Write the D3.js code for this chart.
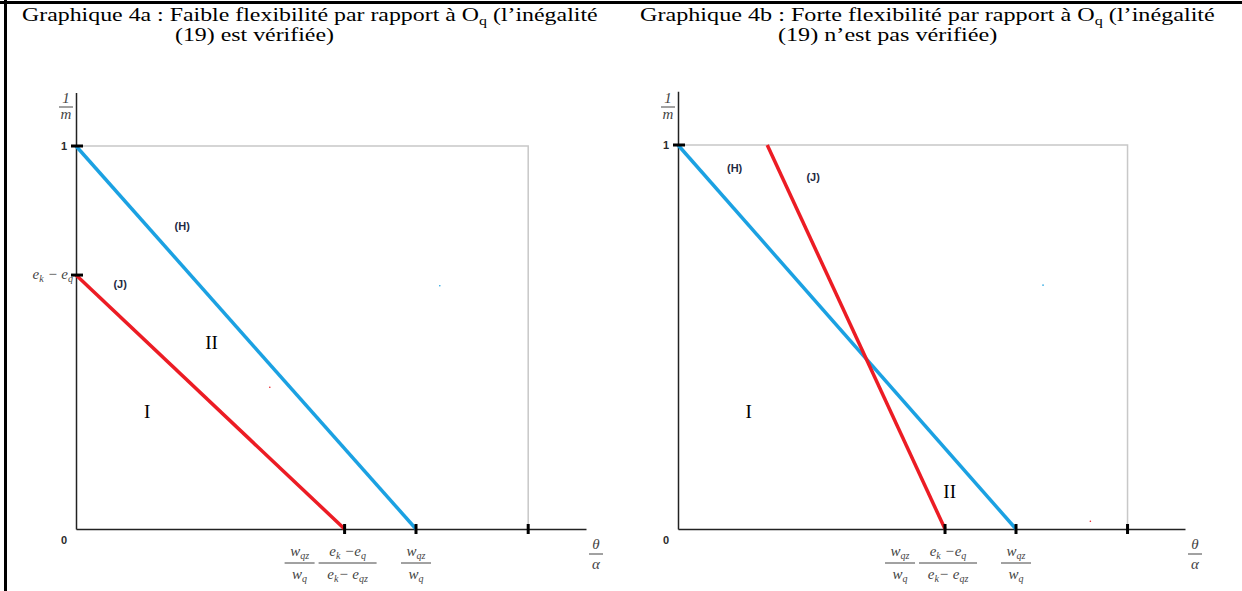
<!DOCTYPE html>
<html><head><meta charset="utf-8">
<script src="https://cdn.jsdelivr.net/npm/d3@7"></script>
<style>
body{margin:0;background:#fff;}
svg{display:block;}
.title{font-family:"Liberation Serif","Times New Roman",serif;font-size:18px;fill:#000;}
.bold{font-family:"Liberation Sans",Arial,sans-serif;font-weight:bold;font-size:11px;}
.math{font-family:"Liberation Serif","Times New Roman",serif;font-style:italic;font-size:15px;fill:#444;}
.roman{font-family:"Liberation Serif","Times New Roman",serif;font-size:19px;fill:#000;}
</style></head>
<body>
<script>
// ---- data ----
const panelIds = ["4a", "4b"];
const titleLine1 = ["Graphique 4a : Faible flexibilité par rapport à O", "Graphique 4b : Forte flexibilité par rapport à O"];
const titleLine1End = [" (l’inégalité", " (l’inégalité"];
const titleLine2 = ["(19) est vérifiée)", "(19) n’est pas vérifiée)"];
// line H : from (0,1) to (wqz/wq = 1, 0)
const lineH = [[[0, 1], [1, 0]], [[0, 1], [1, 0]]];
// line J
const lineJ = [[[0, 0.663], [0.79, 0]], [[0.264, 1], [0.79, 0]]];
// x ticks: J intercept, H intercept, right edge of box
const xTicks = [[0.79, 1, 1.33], [0.79, 1, 1.33]];
const yTicks = [[0.663, 1], [1]];
const boxX = [1.33, 1.33];
const labelH = [[0.29, 0.78], [0.145, 0.93]];
const labelJ = [[0.11, 0.63], [0.38, 0.905]];
const regionI = [[0.2, 0.29], [0.2, 0.29]];
const regionII = [[0.38, 0.47], [0.785, 0.08]];
const strayBlue = [[1.07, 0.635], [1.08, 0.635]];
const strayRed = [[0.57, 0.37], [1.22, 0.02]];

// ---- layout ----
const W = 1242, H = 591;
const geom = [
  {x0: 76, unit: 340, y0: 529, yunit: 383, title1x: 22, title1w: 576, title2x: 175},
  {x0: 678, unit: 338, y0: 529, yunit: 384, title1x: 640, title1w: 575, title2x: 778}
];

const svg = d3.select("body").append("svg").attr("width", W).attr("height", H);

// frame
svg.append("line").attr("x1", 0).attr("x2", W).attr("y1", 2.5).attr("y2", 2.5).attr("stroke", "#000").attr("stroke-width", 3);
svg.append("line").attr("x1", 5.5).attr("x2", 5.5).attr("y1", 0).attr("y2", H).attr("stroke", "#000").attr("stroke-width", 3);

panelIds.forEach((id, i) => {
  const g = geom[i];
  const x = d3.scaleLinear().domain([0, 1.5]).range([g.x0, g.x0 + 1.5 * g.unit]);
  const y = d3.scaleLinear().domain([0, 1.14]).range([g.y0, g.y0 - 1.14 * g.yunit]);
  const p = svg.append("g");

  // title (horizontally stretched like the reference)
  const t1 = p.append("text").attr("class", "title");
  t1.append("tspan").text(titleLine1[i]);
  t1.append("tspan").attr("dy", 4).attr("font-size", 12).text("q");
  t1.append("tspan").attr("dy", -4).text(titleLine1End[i]);
  const t2 = p.append("text").attr("class", "title").text(titleLine2[i]);
  const sx = g.title1w / t1.node().getComputedTextLength();
  t1.attr("transform", `translate(${g.title1x},21) scale(${sx},1)`);
  t2.attr("transform", `translate(${g.title2x},41) scale(${sx},1)`);

  // gray box
  p.append("path").attr("fill", "none").attr("stroke", "#c8c8c8").attr("stroke-width", 1.5)
    .attr("d", d3.line()([[x(0), y(1)], [x(boxX[i]), y(1)], [x(boxX[i]), y(0)]]));

  // axes
  p.append("g").attr("transform", `translate(0,${y(0)})`)
    .call(d3.axisBottom(x).tickValues([]).tickSizeOuter(0))
    .call(a => a.select(".domain").attr("stroke", "#222").attr("stroke-width", 1.5));
  p.append("g").attr("transform", `translate(${x(0)},0)`)
    .call(d3.axisLeft(y).tickValues([]).tickSizeOuter(0))
    .call(a => a.select(".domain").attr("stroke", "#222").attr("stroke-width", 1.5));

  // lines
  const ln = d3.line().x(d => x(d[0])).y(d => y(d[1]));
  p.append("path").attr("d", ln(lineH[i])).attr("stroke", "#1ba1e2").attr("stroke-width", 3.5).attr("fill", "none");
  p.append("path").attr("d", ln(lineJ[i])).attr("stroke", "#ec1c24").attr("stroke-width", 3.5).attr("fill", "none");

  // ticks
  p.selectAll(".xt").data(xTicks[i]).join("line")
    .attr("x1", d => x(d)).attr("x2", d => x(d)).attr("y1", y(0) - 5).attr("y2", y(0) + 5)
    .attr("stroke", "#000").attr("stroke-width", 3);
  p.selectAll(".yt").data(yTicks[i]).join("line")
    .attr("x1", x(0) - 5).attr("x2", x(0) + 7).attr("y1", d => y(d)).attr("y2", d => y(d))
    .attr("stroke", "#000").attr("stroke-width", 3);

  // stray dots
  p.selectAll(".sb").data([strayBlue[i]]).join("circle").attr("cx", d => x(d[0])).attr("cy", d => y(d[1])).attr("r", 0.8).attr("fill", "#1ba1e2");
  p.selectAll(".sr").data([strayRed[i]]).join("circle").attr("cx", d => x(d[0])).attr("cy", d => y(d[1])).attr("r", 0.8).attr("fill", "#ec1c24");

  // tick labels
  p.append("text").attr("class", "bold").attr("x", x(0) - 9).attr("y", y(1) + 4).attr("text-anchor", "end").attr("fill", "#2a2a2a").text("1");
  p.append("text").attr("class", "bold").attr("x", x(0) - 9).attr("y", y(0) + 15).attr("text-anchor", "end").attr("fill", "#2a2a2a").text("0");

  // y axis title 1/m
  const ax = x(0) - 10;
  p.append("text").attr("class", "math").attr("font-style", "normal").attr("x", ax).attr("y", 103).attr("text-anchor", "middle").attr("font-size", 13).text("1");
  p.append("line").attr("x1", ax - 7).attr("x2", ax + 7).attr("y1", 107).attr("y2", 107).attr("stroke", "#444").attr("stroke-width", 1);
  p.append("text").attr("class", "math").attr("x", ax).attr("y", 119).attr("text-anchor", "middle").attr("font-size", 12).text("m");

  // x axis title theta/alpha
  const tx = x(1.5) + 10;
  p.append("text").attr("class", "math").attr("x", tx).attr("y", y(0) + 20).attr("text-anchor", "middle").text("θ");
  p.append("line").attr("x1", tx - 7).attr("x2", tx + 7).attr("y1", y(0) + 25).attr("y2", y(0) + 25).attr("stroke", "#444").attr("stroke-width", 1);
  p.append("text").attr("class", "math").attr("x", tx).attr("y", y(0) + 40).attr("text-anchor", "middle").text("α");

  // e_k - e_q label for panel a
  if (i === 0) {
    const tk = p.append("text").attr("class", "math").attr("x", x(0) - 3).attr("y", y(0.663) + 4).attr("text-anchor", "end");
    tk.append("tspan").text("e");
    tk.append("tspan").attr("dy", 3).attr("font-size", 10).text("k");
    tk.append("tspan").attr("dy", -3).text(" − e");
    tk.append("tspan").attr("dy", 3).attr("font-size", 10).text("q");
  }

  // fraction helper
  function frac(cx, num, den, w) {
    const a = p.append("text").attr("class", "math").attr("x", cx).attr("y", y(0) + 27).attr("text-anchor", "middle");
    num.forEach(s => a.append("tspan").attr("dy", s[1]).attr("font-size", s[2]).text(s[0]));
    p.append("line").attr("x1", cx - w / 2).attr("x2", cx + w / 2).attr("y1", y(0) + 34).attr("y2", y(0) + 34).attr("stroke", "#444").attr("stroke-width", 1);
    const b = p.append("text").attr("class", "math").attr("x", cx).attr("y", y(0) + 50).attr("text-anchor", "middle");
    den.forEach(s => b.append("tspan").attr("dy", s[1]).attr("font-size", s[2]).text(s[0]));
  }
  const xj = x(xTicks[i][0]), xh = x(xTicks[i][1]);
  frac(xj - 45, [["w", 0, 15], ["qz", 3, 10]], [["w", 0, 15], ["q", 3, 10]], 30);
  frac(xj + 3, [["e", 0, 15], ["k", 3, 10], [" −e", -3, 15], ["q", 3, 10]], [["e", 0, 15], ["k", 3, 10], ["− e", -3, 15], ["qz", 3, 10]], 58);
  frac(xh, [["w", 0, 15], ["qz", 3, 10]], [["w", 0, 15], ["q", 3, 10]], 30);

  // line labels
  p.append("text").attr("class", "bold").attr("fill", "#1f2a44").attr("x", x(labelH[i][0])).attr("y", y(labelH[i][1])).text("(H)");
  p.append("text").attr("class", "bold").attr("fill", "#1f2a44").attr("x", x(labelJ[i][0])).attr("y", y(labelJ[i][1])).text("(J)");
  p.append("text").attr("class", "roman").attr("x", x(regionI[i][0])).attr("y", y(regionI[i][1])).text("I");
  p.append("text").attr("class", "roman").attr("x", x(regionII[i][0])).attr("y", y(regionII[i][1])).text("II");
});
</script>
</body></html>
